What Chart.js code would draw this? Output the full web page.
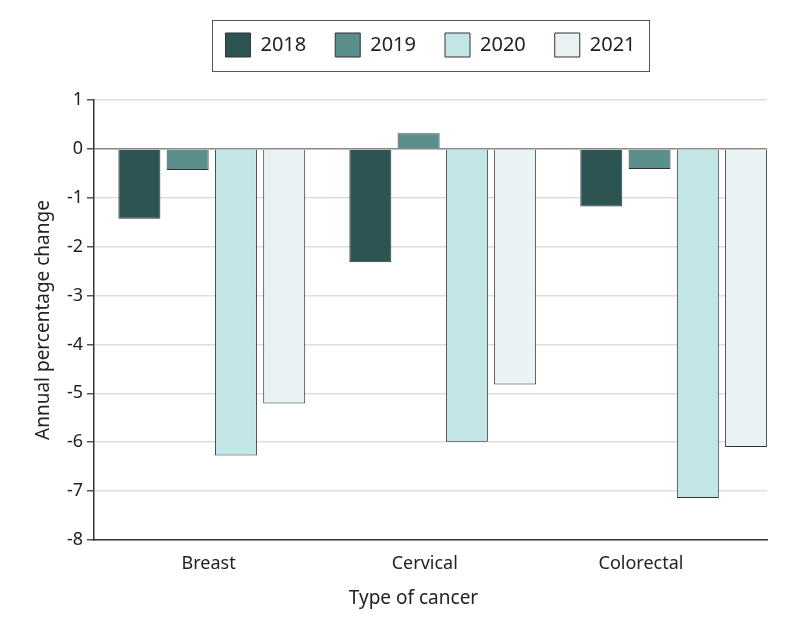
<!DOCTYPE html>
<html><head><meta charset="utf-8">
<script src="https://cdn.jsdelivr.net/npm/chart.js@4.4.1/dist/chart.umd.min.js"></script>
<style>html,body{margin:0;padding:0;background:#fff}#wrap{width:794px;height:626px}</style>
</head><body><div id="wrap"><canvas id="c" width="794" height="626"></canvas></div>
<script>
const categories = ['Breast', 'Cervical', 'Colorectal'];
const years = ['2018', '2019', '2020', '2021'];
const values2018 = [-1.43, -2.32, -1.18];
const values2019 = [-0.43, 0.32, -0.41];
const values2020 = [-6.27, -5.99, -7.14];
const values2021 = [-5.21, -4.82, -6.10];
const yMin = -8, yMax = 1, yStep = 1;
const colors = ['#2b5452', '#5a8f8b', '#c2e6e6', '#e9f3f4'];

const series = [values2018, values2019, values2020, values2021];
Chart.defaults.font.family = '"Noto Sans", sans-serif';
Chart.defaults.color = '#222';

const legendFrame = {
  id: 'legendFrame',
  beforeLayout(chart) {
    const lg = chart.legend;
    if (lg && !lg._patched) {
      const orig = lg.fit.bind(lg);
      lg.fit = function () { orig(); this.height = 100; };
      lg._patched = true;
    }
  },
  afterLayout(chart) {
    const lg = chart.legend, ca = chart.chartArea;
    const dx = (ca.left + ca.right) / 2 - (lg.left + lg.right) / 2;
    lg.left += dx; lg.right += dx; lg.top += 4; lg.bottom += 4;
    // shift the category-title axis so its title sits where the reference puts it
    const s = chart.scales.x2;
    s.left -= 17; s.right -= 17;
  },
  afterDraw(chart) {
    const lg = chart.legend, ctx = chart.ctx;
    const pad = lg.options.labels.padding;
    const lw = lg.lineWidths[0];
    const x0 = (lg.left + pad + lg.right - lw) / 2;
    const w = lw - pad;
    const y0 = lg.top + pad;
    const h = 24;
    ctx.save();
    ctx.strokeStyle = '#555';
    ctx.lineWidth = 1;
    ctx.strokeRect(Math.round(x0 - 13.5) + 0.5, Math.round(y0 - 13.5) + 0.5, Math.round(w + 27), Math.round(h + 27));
    ctx.restore();
  }
};

new Chart(document.getElementById('c'), {
  type: 'bar',
  data: {
    datasets: years.map((y, k) => ({
      label: y,
      data: series[k].map((v, i) => ({ x: i, y: v })),
      xAxisID: 'x',
      backgroundColor: colors[k],
      borderColor: '#333',
      borderWidth: 1,
      categoryPercentage: 0.836,
      barPercentage: 0.87
    }))
  },
  options: {
    responsive: false,
    animation: false,
    devicePixelRatio: 1,
    layout: { padding: { left: 0, right: 27, top: 0, bottom: 0 } },
    plugins: {
      tooltip: { enabled: false },
      legend: {
        position: 'top',
        labels: { boxWidth: 25, boxHeight: 24, padding: 29, font: { size: 20 }, color: '#222' }
      }
    },
    scales: {
      x: {
        type: 'linear',
        position: 'bottom',
        offset: false,
        min: -0.51,
        max: 2.404,
        afterBuildTicks: s => { s.ticks = categories.map((_, i) => ({ value: i })); },
        afterFit: s => { s.height = 0; },
        ticks: { display: false },
        grid: { display: false, drawTicks: false },
        border: { display: true, color: '#333', width: 1.5 }
      },
      x2: {
        type: 'linear',
        position: 'bottom',
        offset: false,
        min: -0.53,
        max: 2.583,
        afterBuildTicks: s => { s.ticks = categories.map((_, i) => ({ value: i })); },
        afterFit: s => { s.height = 86; },
        ticks: { callback: v => categories[v], font: { size: 18 }, color: '#222', padding: 13, maxRotation: 0, autoSkip: false },
        grid: { display: false, drawTicks: false },
        border: { display: false },
        title: { display: true, text: 'Type of cancer', font: { size: 19 }, color: '#222', padding: { top: 8, bottom: 16 } }
      },
      y: {
        min: yMin,
        max: yMax,
        afterFit: s => { s.width = 94; },
        ticks: { stepSize: yStep, font: { size: 18 }, color: '#222', padding: 4 },
        grid: {
          color: c => (c.tick && c.tick.value === 0 ? '#888' : '#dedede'),
          lineWidth: 1.5,
          tickLength: 7,
          tickColor: '#555'
        },
        border: { display: true, color: '#333', width: 1.5 },
        title: { display: true, text: 'Annual percentage change', font: { size: 19 }, color: '#222', padding: { top: 32, bottom: 0 } }
      }
    }
  },
  plugins: [legendFrame]
});
</script></body></html>
